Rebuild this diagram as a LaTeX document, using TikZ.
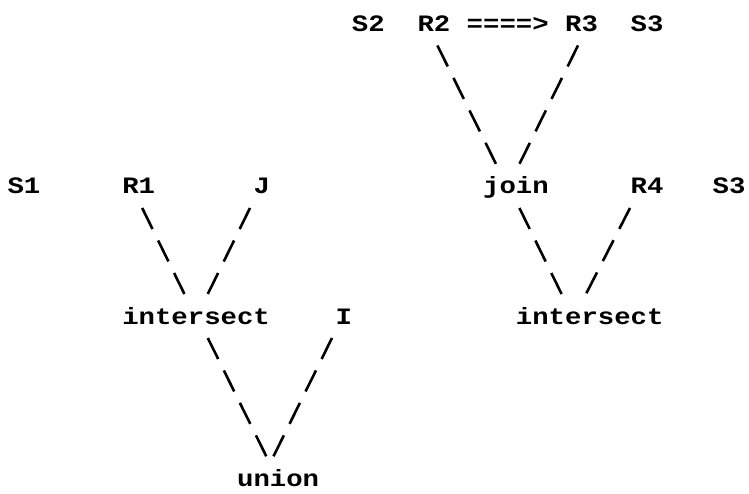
\documentclass[tikz,border=0pt]{standalone}
\usepackage{graphicx}
\usepackage{fontspec}
\setmonofont{Liberation Mono}
\newcommand{\tw}[1]{\scalebox{1.163}[1]{#1}}
\begin{document}
\begin{tikzpicture}[x=1pt,y=-1pt,
  lbl/.style={anchor=base west, inner sep=0pt, outer sep=0pt,
    font=\ttfamily\bfseries\fontsize{23.5}{30}\selectfont},
  slash/.style={line width=2.6pt, dash pattern=on 23.4pt off 12.8pt}]
\useasboundingbox (0,0) rectangle (749,494);
\fill[white] (0,0) rectangle (749,494);

% row 0
\node[lbl] (s2)  at (351.9,31.5) {\tw{S2}};
\node[lbl] (r2)  at (417.5,31.5) {\tw{R2}};
\node[lbl] (arr) at (466.7,31.5) {\tw{====>}};
\node[lbl] (r3)  at (565.1,31.5) {\tw{R3}};
\node[lbl] (s3a) at (630.7,31.5) {\tw{S3}};

% row 5
\node[lbl] (s1)   at (7.5,194)   {\tw{S1}};
\node[lbl] (r1)   at (122.3,194) {\tw{R1}};
\node[lbl] (jj)   at (253.5,194) {\tw{J}};
\node[lbl] (join) at (483.1,194) {\tw{join}};
\node[lbl] (r4)   at (630.7,194) {\tw{R4}};
\node[lbl] (s3b)  at (712.7,194) {\tw{S3}};

% row 9
\node[lbl] (isl) at (122.3,324) {\tw{intersect}};
\node[lbl] (ii)  at (335.5,324) {\tw{I}};
\node[lbl] (isr) at (515.9,324) {\tw{intersect}};

% row 14
\node[lbl] (union) at (237.1,486.5) {\tw{union}};

% tree edges
\draw[slash] ([shift={(19.9,14)}]r2.base west) -- ([shift={(12.9,-30)}]join.base west);
\draw[slash] ([shift={(12.9,14)}]r3.base west) -- ([shift={(36.3,-30)}]join.base west);
\draw[slash] ([shift={(19.9,14)}]r1.base west) -- ([shift={(62.1,-30)}]isl.base west);
\draw[slash] ([shift={(-3.5,14)}]jj.base west) -- ([shift={(85.5,-30)}]isl.base west);
\draw[slash] ([shift={(85.5,14)}]isl.base west) -- ([shift={(29.3,-30)}]union.base west);
\draw[slash] ([shift={(-3.5,14)}]ii.base west) -- ([shift={(36.3,-30)}]union.base west);
\draw[slash] ([shift={(36.3,14)}]join.base west) -- ([shift={(45.7,-30)}]isr.base west);
\draw[slash] ([shift={(-0.7,14)}]r4.base west) -- ([shift={(70.1,-30)}]isr.base west);
\end{tikzpicture}
\end{document}
